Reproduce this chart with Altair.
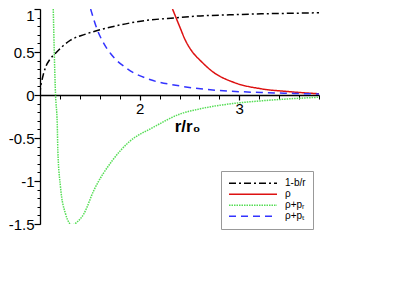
import altair as alt
import pandas as pd

# 1 - b/r
r_metric = [1.0, 1.005, 1.015, 1.055, 1.10, 1.156, 1.23, 1.31, 1.45, 1.575, 1.81, 2.01, 2.36, 2.61, 2.9, 3.22, 3.5, 3.8]
v_metric = [0.0, 0.083, 0.145, 0.32, 0.415, 0.486, 0.57, 0.64, 0.705, 0.75, 0.816, 0.858, 0.898, 0.92, 0.932, 0.944, 0.950, 0.956]

# rho
r_rho = [2.33, 2.40, 2.46, 2.53, 2.61, 2.74, 2.94, 3.22, 3.49, 3.8]
v_rho = [1.0, 0.80, 0.634, 0.50, 0.40, 0.265, 0.149, 0.072, 0.04, 0.014]

# rho + p_r
r_rad = [1.133, 1.156, 1.173, 1.179, 1.206, 1.256, 1.29, 1.323, 1.37, 1.44, 1.54, 1.726, 1.89, 2.14, 2.41, 2.61, 2.93, 3.2, 3.5, 3.8]
v_rad = [1.0, 0.0, -0.335, -0.645, -1.072, -1.381, -1.48, -1.512, -1.48, -1.381, -1.11, -0.762, -0.549, -0.374, -0.219, -0.16, -0.10, -0.07, -0.045, -0.026]

# rho + p_t
r_tan = [1.508, 1.575, 1.64, 1.71, 1.876, 2.11, 2.38, 2.61, 2.9, 3.22, 3.5, 3.8]
v_tan = [1.0, 0.758, 0.60, 0.479, 0.305, 0.177, 0.110, 0.072, 0.045, 0.029, 0.02, 0.012]

series_names = ["1-b/r", "ρ", "ρ+pᵣ", "ρ+pₜ"]
series_colors = ["#000000", "#dd1111", "#55dd55", "#3333ff"]
series_dashes = [[7, 3, 2, 3], [1, 0], [1.5, 1], [7, 5]]
series_widths = [1.5, 1.5, 1.0, 1.5]

rows = []
for name, rs, vs in zip(series_names, [r_metric, r_rho, r_rad, r_tan], [v_metric, v_rho, v_rad, v_tan]):
    for i, (r, v) in enumerate(zip(rs, vs)):
        rows.append({"r": r, "v": v, "series": name, "idx": i})
df = pd.DataFrame(rows)

x_major = [2, 3]
x_minor = [1.2, 1.4, 1.6, 1.8, 2.0, 2.2, 2.4, 2.6, 2.8, 3.0, 3.2, 3.4, 3.6, 3.8]
y_major = [-1.5, -1.0, -0.5, 0.0, 0.5, 1.0]
y_minor = [round(-1.5 + 0.1 * k, 1) for k in range(26)]

W, H = 279, 215
y_domain = [-1.5, 1.0]
x_offset = -(H - H * (y_domain[1] - 0) / (y_domain[1] - y_domain[0]))

xscale = alt.Scale(domain=[1.0, 3.8], nice=False, zero=False)
yscale = alt.Scale(domain=y_domain, nice=False, zero=False)
FONT = "Liberation Sans"

lines = alt.Chart(df).mark_line(clip=True, interpolate="monotone").encode(
    x=alt.X("r:Q", scale=xscale, axis=alt.Axis(
        values=x_major, orient="bottom", offset=x_offset, grid=False,
        title="r/r₀", titleFont=FONT, titleFontSize=17, titleFontWeight="bold",
        titleX=147, titleY=36, titleBaseline="alphabetic", titleAlign="center", titleColor="black",
        tickSize=5, tickColor="black", tickWidth=1.2, domainColor="black", domainWidth=1.3,
        labelFont=FONT, labelFontSize=15, labelColor="black", labelPadding=1,
        labelExpr="datum.value + ''")),
    y=alt.Y("v:Q", scale=yscale, axis=alt.Axis(
        values=y_major, orient="left", grid=False, title=None,
        tickSize=6, tickColor="black", tickWidth=1.2, domainColor="black", domainWidth=1.3,
        labelFont=FONT, labelFontSize=15, labelColor="black", labelPadding=0,
        labelOffset={"condition": {"test": "datum.value == 1", "value": 6}, "value": 0},
        labelExpr="datum.value + ''")),
    color=alt.Color("series:N", scale=alt.Scale(domain=series_names, range=series_colors),
                    legend=alt.Legend(title=None, orient="none", legendX=181, legendY=162,
                                      fillColor="white", strokeColor="#999999", padding=7,
                                      symbolType="stroke", symbolSize=2304, clipHeight=10.7,
                                      rowPadding=0, labelOffset=7, labelFont=FONT,
                                      labelFontSize=10, labelColor="black", symbolStrokeWidth=1.5)),
    strokeDash=alt.StrokeDash("series:N", scale=alt.Scale(domain=series_names, range=series_dashes)),
    strokeWidth=alt.StrokeWidth("series:N", scale=alt.Scale(domain=series_names, range=series_widths)),
    order="idx:Q",
)

minor = alt.Chart(df).mark_line(opacity=0).encode(
    x=alt.X("r:Q", scale=xscale, axis=alt.Axis(
        values=x_minor, orient="bottom", offset=x_offset, grid=False, labels=False, title=None,
        domain=False, tickSize=4, tickColor="black", tickWidth=1)),
    y=alt.Y("v:Q", scale=yscale, axis=alt.Axis(
        values=y_minor, orient="left", grid=False, labels=False, title=None,
        domain=False, tickSize=3, tickColor="black", tickWidth=1)),
    detail="series:N",
)

chart = alt.layer(lines, minor).resolve_axis(x="independent", y="independent").properties(
    width=W, height=H,
    autosize=alt.AutoSizeParams(type="none"),
    padding={"left": 32, "top": 1, "right": 72, "bottom": 59},
    background="white",
).configure_view(stroke=None)

chart.save("out.html", embed_options={"renderer": "svg", "actions": False})
